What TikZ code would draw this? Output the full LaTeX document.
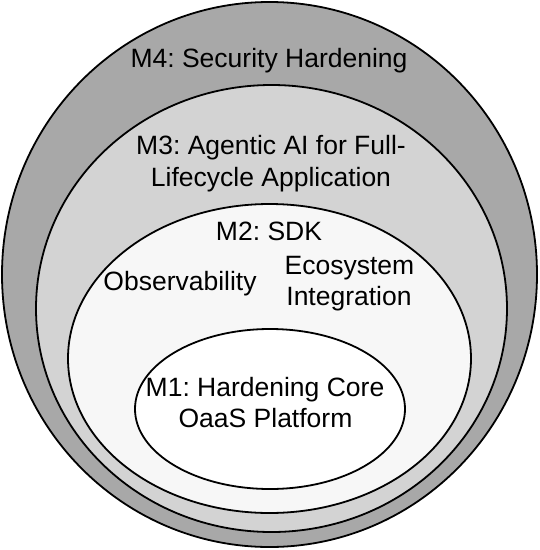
\documentclass[tikz,border=0pt]{standalone}
\usepackage{fontspec}
\setmainfont{Liberation Sans}
\usetikzlibrary{shapes.geometric}
\definecolor{cfour}{HTML}{A8A8A8}
\definecolor{cthree}{HTML}{D3D3D3}
\definecolor{ctwo}{HTML}{F7F7F7}
\frenchspacing
\begin{document}
\begin{tikzpicture}[x=1pt,y=-1pt,
  ring/.style={ellipse, draw=black, line width=1.8pt, inner sep=0pt},
  lbl/.style={font=\fontsize{26.5}{31.5}\selectfont\frenchspacing, inner sep=0pt, anchor=base}]
\useasboundingbox (0,0) rectangle (540,550);
\node[ring, fill=cfour, minimum width=535pt, minimum height=545pt] (m4) at (269.5,274.5) {};
\node[ring, fill=cthree, minimum width=471pt, minimum height=447pt] (m3) at (271.5,308.5) {};
\node[ring, fill=ctwo, minimum width=403pt, minimum height=309pt] (m2) at (269.5,358.5) {};
\node[ring, fill=white, minimum width=270pt, minimum height=160pt] (m1) at (270,409) {};
\node[lbl] (t4) at (269,67) {M4: Security Hardening};
\node[lbl] (t3a) at (271,154.5) {M3: Agentic AI for Full-};
\node[lbl] (t3b) at (271,186) {Lifecycle Application};
\node[lbl] (t2) at (269,240) {M2: SDK};
\node[lbl] (tobs) at (180,290) {Observability};
\node[lbl] (teco) at (349.5,274) {Ecosystem};
\node[lbl] (tint) at (349,305) {Integration};
\node[lbl] (t1a) at (265,396) {M1: Hardening Core};
\node[lbl] (t1b) at (265.5,427.5) {OaaS Platform};
\end{tikzpicture}
\end{document}
